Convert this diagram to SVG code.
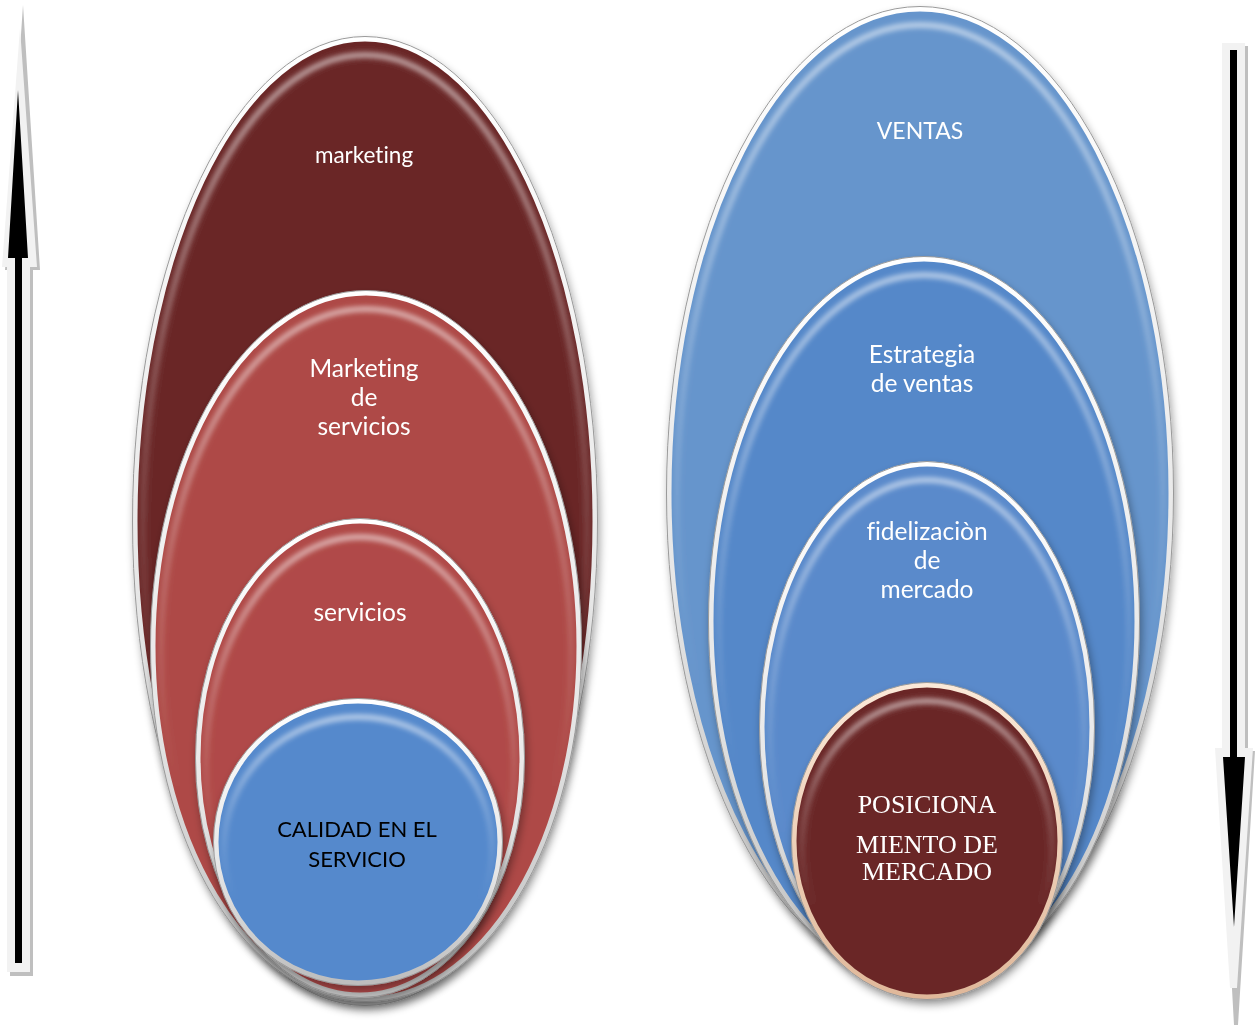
<svg xmlns="http://www.w3.org/2000/svg" width="1255" height="1026" viewBox="0 0 1255 1026">
  <defs>
    <filter id="shadow" x="-20%" y="-20%" width="140%" height="140%">
      <feGaussianBlur in="SourceAlpha" stdDeviation="4"/>
      <feOffset dx="2" dy="5" result="b"/>
      <feComponentTransfer><feFuncA type="linear" slope="0.35"/></feComponentTransfer>
      <feMerge><feMergeNode/><feMergeNode in="SourceGraphic"/></feMerge>
    </filter>
    <filter id="soft" x="-10%" y="-10%" width="120%" height="120%">
      <feGaussianBlur stdDeviation="2.5"/>
    </filter>
    <linearGradient id="rim" x1="0" y1="0" x2="0" y2="1">
      <stop offset="0" stop-color="#ffffff"/>
      <stop offset="0.6" stop-color="#e6e6e6"/>
      <stop offset="1" stop-color="#bdbdbd"/>
    </linearGradient>
    <linearGradient id="rimWarm" x1="0" y1="0" x2="0" y2="1">
      <stop offset="0" stop-color="#fbe9d8"/>
      <stop offset="1" stop-color="#e0b89a"/>
    </linearGradient>
    <!-- inner bevel highlight, strongest along the top edge -->
    <linearGradient id="bevel" x1="0" y1="0" x2="0" y2="1">
      <stop offset="0" stop-color="#ffffff" stop-opacity="0.55"/>
      <stop offset="0.35" stop-color="#ffffff" stop-opacity="0.2"/>
      <stop offset="0.7" stop-color="#ffffff" stop-opacity="0"/>
    </linearGradient>
  </defs>
  <style>
    .rim { stroke: url(#rim); stroke-width: 5; }
    .edge { fill: none; stroke: #9a9a9a; stroke-width: 1; }
    .glow { fill: none; stroke: url(#bevel); stroke-width: 6; filter: url(#soft); }
    .lbl { font-family: Lato, "Open Sans", sans-serif; font-size: 24.5px; fill: #ffffff; text-anchor: middle; font-variant-ligatures: none; }
    .caps { font-size: 22px; }
    .dark { fill: #000000; }
    .serif { font-family: "Liberation Serif", "Times New Roman", serif; font-size: 26px; fill: #ffffff; text-anchor: middle; }
  </style>

  <!-- side arrows -->
  <g id="connectors">
    <g id="arrow-up">
      <path d="M23,5 L40,270 L33,270 L33,976 L10,976 L10,270 L5,270 Z" fill="#bfbfbf"/>
      <path d="M20,28 L37,267 L30,267 L30,972 L7,972 L7,267 L2,267 Z" fill="#f2f2f2"/>
      <path d="M18,90 L28,258 L22,258 L22,963 L15,963 L15,258 L8,258 Z" fill="#000000"/>
    </g>
    <g id="arrow-down">
      <path d="M1225,46 L1248,46 L1248,751 L1255,751 L1238,1025 L1234,1025 L1219,751 L1225,751 Z" fill="#bfbfbf"/>
      <path d="M1222,43 L1245,43 L1245,748 L1253,748 L1237,988 L1230,988 L1215,748 L1222,748 Z" fill="#f2f2f2"/>
      <path d="M1230,50 L1237,50 L1237,757 L1245,757 L1234,927 L1223,757 L1230,757 Z" fill="#000000"/>
    </g>
  </g>

  <!-- left stack -->
  <g id="marketing" filter="url(#shadow)">
    <ellipse cx="365" cy="521" rx="230" ry="482" fill="#6b2828" class="rim"/>
    <ellipse cx="365" cy="521" rx="232.5" ry="484.5" class="edge"/>
    <ellipse cx="365" cy="527" rx="222" ry="472" class="glow"/>
    <text class="lbl" x="364" y="163" style="font-size:22.5px">marketing</text>
  </g>
  <g id="marketing-de-servicios" filter="url(#shadow)">
    <ellipse cx="366" cy="646" rx="213" ry="353" fill="#ae4a47" class="rim"/>
    <ellipse cx="366" cy="646" rx="215.5" ry="355.5" class="edge"/>
    <ellipse cx="366" cy="652" rx="205" ry="343" class="glow"/>
    <text class="lbl" x="364" y="377">Marketing</text>
    <text class="lbl" x="364" y="406">de</text>
    <text class="lbl" x="364" y="435">servicios</text>
  </g>
  <g id="servicios" filter="url(#shadow)">
    <ellipse cx="360" cy="758" rx="162" ry="237" fill="#b04a48" class="rim"/>
    <ellipse cx="360" cy="758" rx="164.5" ry="239.5" class="edge"/>
    <ellipse cx="360" cy="764" rx="154" ry="227" class="glow"/>
    <text class="lbl" x="360" y="621">servicios</text>
  </g>
  <g id="calidad" filter="url(#shadow)">
    <ellipse cx="358" cy="842" rx="142" ry="141" fill="#5589cc" class="rim"/>
    <ellipse cx="358" cy="842" rx="144.5" ry="143.5" class="edge"/>
    <ellipse cx="358" cy="848" rx="134" ry="131" class="glow"/>
    <text class="lbl caps dark" x="357" y="837">CALIDAD EN EL</text>
    <text class="lbl caps dark" x="357" y="867">SERVICIO</text>
  </g>

  <!-- right stack -->
  <g id="ventas" filter="url(#shadow)">
    <ellipse cx="920" cy="493" rx="251" ry="484" fill="#6695cc" class="rim"/>
    <ellipse cx="920" cy="493" rx="253.5" ry="486.5" class="edge"/>
    <ellipse cx="920" cy="499" rx="243" ry="474" class="glow"/>
    <text class="lbl" x="920" y="139" style="font-size:23px">VENTAS</text>
  </g>
  <g id="estrategia" filter="url(#shadow)">
    <ellipse cx="924" cy="621" rx="213" ry="362" fill="#5588c9" class="rim"/>
    <ellipse cx="924" cy="621" rx="215.5" ry="364.5" class="edge"/>
    <ellipse cx="924" cy="627" rx="205" ry="352" class="glow"/>
    <text class="lbl" x="922" y="363">Estrategia</text>
    <text class="lbl" x="922" y="392">de ventas</text>
  </g>
  <g id="fidelizacion" filter="url(#shadow)">
    <ellipse cx="927" cy="727" rx="165" ry="263" fill="#5a8acb" class="rim"/>
    <ellipse cx="927" cy="727" rx="167.5" ry="265.5" class="edge"/>
    <ellipse cx="927" cy="733" rx="157" ry="253" class="glow"/>
    <text class="lbl" x="927" y="540">fidelizaciòn</text>
    <text class="lbl" x="927" y="569">de</text>
    <text class="lbl" x="927" y="598">mercado</text>
  </g>
  <g id="posicionamiento" filter="url(#shadow)">
    <ellipse cx="927" cy="841" rx="133" ry="156" fill="#6b2828" stroke="url(#rimWarm)" stroke-width="5"/>
    <ellipse cx="927" cy="841" rx="135.5" ry="158.5" class="edge"/>
    <ellipse cx="927" cy="847" rx="125" ry="146" class="glow"/>
    <text class="serif" x="927" y="813">POSICIONA</text>
    <text class="serif" x="927" y="853">MIENTO DE</text>
    <text class="serif" x="927" y="880">MERCADO</text>
  </g>
</svg>
